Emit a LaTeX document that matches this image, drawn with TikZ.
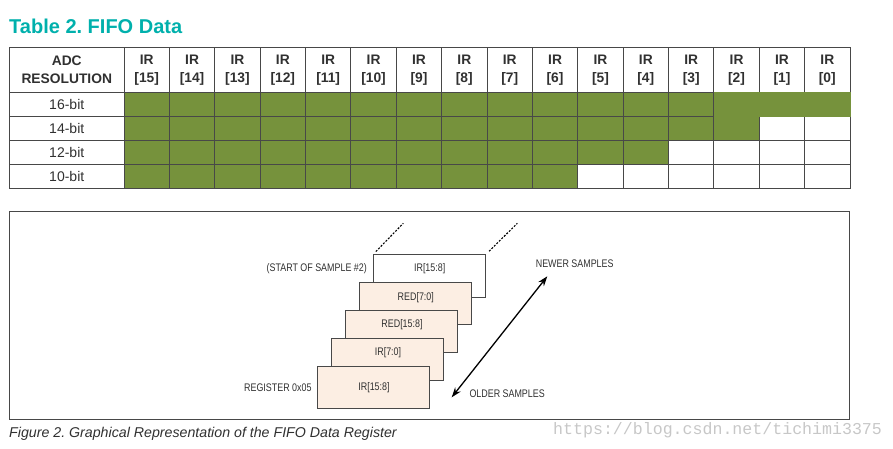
\documentclass[tikz,border=0pt]{standalone}
\usepackage{fontspec}
\setmainfont{Liberation Sans}
\newfontfamily\figfont[FakeStretch=0.81]{Liberation Sans}
\newfontfamily\urlfont{Liberation Mono}
\usetikzlibrary{arrows.meta}
\definecolor{titleteal}{HTML}{00B0AC}
\definecolor{bitgreen}{HTML}{76923C}
\definecolor{gridgray}{HTML}{484848}
\definecolor{regfill}{HTML}{FCEEE3}
\definecolor{tabletext}{HTML}{303030}
\frenchspacing

\begin{document}
\begin{tikzpicture}[x=1pt, y=-1pt,
    cell/.style={draw=gridgray, line width=.9pt, inner sep=0pt, minimum width=45.375pt, minimum height=24pt},
    fullcell/.style={cell, fill=bitgreen},
    headcell/.style={cell, minimum height=45pt, align=center, text=tabletext, font=\fontsize{13.8}{18}\selectfont\bfseries},
    rescell/.style={cell, minimum width=114.5pt, text=tabletext, font=\fontsize{14}{16}\selectfont},
    regbox/.style={draw=gridgray, line width=.8pt, inner sep=0pt, minimum width=112pt, minimum height=42.4pt},
    reglabel/.style={inner sep=0pt, text=tabletext, font=\figfont\fontsize{11}{13}\selectfont}]

    \useasboundingbox (0,0) rectangle (893,449);

    \node[anchor=base west, inner sep=0pt, text=titleteal, font=\fontsize{20}{22}\selectfont\bfseries] (title) at (9,34) {Table 2. FIFO Data};

    % table head
    \node[headcell, minimum width=114.5pt] (adc) at (66.75,70) {ADC\\RESOLUTION};
    \foreach \bit [count=\i from 0] in {15,...,0}
        \node[headcell] (h\bit) at ({146.69+45.375*\i},70) {IR\\{}[\bit]};

    % table rows
    \foreach \res/\yc in {16/104.6,14/128.6,12/152.6,10/176.6} {
        \node[rescell] (r\res) at (66.75,\yc) {\res-bit};
        \foreach \bit [count=\i from 0] in {15,...,0} {
            \ifnum\bit<\numexpr16-\res\relax
                \node[cell] (c\res-\bit) at ({146.69+45.375*\i},\yc) {};
            \else
                \ifnum\res=16 \ifnum\bit<3 \relax \else
                    \node[fullcell] (c\res-\bit) at ({146.69+45.375*\i},\yc) {};
                \fi \else
                    \node[fullcell] (c\res-\bit) at ({146.69+45.375*\i},\yc) {};
                \fi
            \fi
        }
    }
    \node[fullcell, draw=bitgreen, minimum width=136.125pt] (c16-low) at (781.94,104.6) {};
    \draw[gridgray, line width=.9pt, xshift=.45pt] (c16-low.north west) -- (c16-low.south west);

    % figure frame
    \node[draw=gridgray, line width=1pt, inner sep=0pt, minimum width=839.5pt, minimum height=207.6pt] (frame) at (429.25,315.6) {};

    % register stack, oldest sample in front
    \node[regbox, fill=white] (sample2) at (429.8,275.7) {};
    \node[regbox, fill=regfill] (redlow) at (415.8,303.5) {};
    \node[regbox, fill=regfill] (redhigh) at (401.8,331.5) {};
    \node[regbox, fill=regfill] (irlow) at (387.8,359.5) {};
    \node[regbox, fill=regfill] (irhigh) at (373.8,387.5) {};

    \node[reglabel] (sample2text) at (429.7,268.3) {IR[15:8]};
    \node[reglabel] (redlowtext) at (415.8,297.3) {RED[7:0]};
    \node[reglabel] (redhightext) at (402,324.3) {RED[15:8]};
    \node[reglabel] (irlowtext) at (388,352.7) {IR[7:0]};
    \node[reglabel] (irhightext) at (374,387.7) {IR[15:8]};

    \coordinate (dotleft) at (403.3,223.3);
    \coordinate (dotright) at (517.3,223.3);
    \draw[line width=1.1pt, dash pattern=on 2pt off 1.5pt, shorten <=3.5pt] (sample2.north west) -- (dotleft);
    \draw[line width=1.1pt, dash pattern=on 2pt off 1.5pt, shorten <=4pt] (sample2.north east) -- (dotright);

    \node[reglabel, anchor=east] (startlabel) at (367,269) {(START OF SAMPLE \#2)};
    \node[reglabel, anchor=east] (reglabel05) at (311.7,387.7) {REGISTER 0x05};
    \node[reglabel] (newer) at (574.7,264) {NEWER SAMPLES};
    \node[reglabel, anchor=west] (older) at (469.3,393.6) {OLDER SAMPLES};

    \coordinate (oldend) at (451.7,397.3);
    \coordinate (newend) at (547.3,276.3);
    \draw[{Stealth[length=10pt,width=7pt]}-{Stealth[length=10pt,width=7pt]}, line width=1.3pt] (oldend) -- (newend);

    \node[anchor=base west, inner sep=0pt, font=\fontsize{14.2}{16}\selectfont\itshape, text=tabletext] (caption) at (9,437) {Figure 2. Graphical Representation of the FIFO Data Register};
    \node[anchor=base west, inner sep=0pt, text=black!22, font=\urlfont\fontsize{16.6}{18}\selectfont] (watermark) at (553,434) {https://blog.csdn.net/tichimi3375};
\end{tikzpicture}
\end{document}
